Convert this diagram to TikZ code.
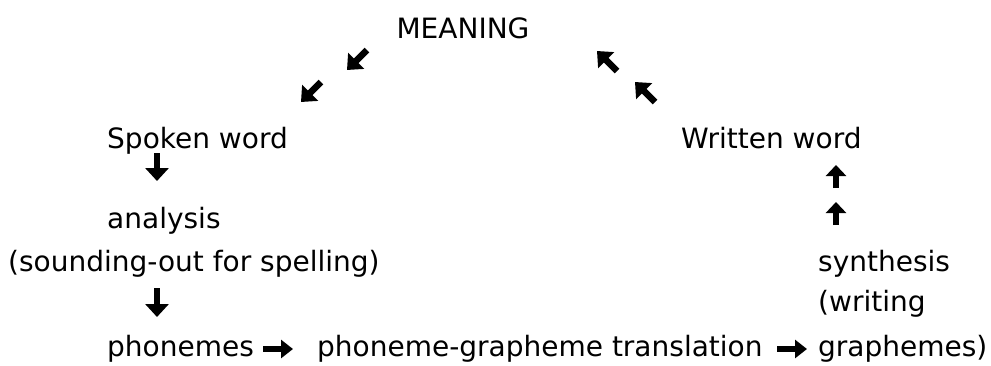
\documentclass[tikz,border=0pt]{standalone}
\usepackage{fontspec}
\setmainfont{DejaVu Sans}
\usetikzlibrary{arrows.meta}
\begin{document}
\begin{tikzpicture}[x=1pt,y=-1pt,
  lbl/.style={anchor=base west,inner sep=0pt,font=\fontsize{28}{32}\selectfont},
  fatarrow/.style={line width=6pt,-{Triangle[length=13pt,width=23pt]}},
  slantarrow/.style={line width=6.5pt,-{Triangle[length=13pt,width=22pt]}},
  uparrow/.style={line width=5.5pt,-{Triangle[length=11pt,width=20pt]}},
  sidearrow/.style={line width=5.5pt,-{Triangle[length=12pt,width=18pt]}}]
\useasboundingbox (0,0) rectangle (991,365);
% words
\node[lbl,anchor=base] (meaning) at (463,38) {MEANING};
\node[lbl] (spoken) at (107,148) {Spoken word};
\node[lbl] (written) at (681,148) {Written word};
\node[lbl] (analysis) at (107,228) {analysis};
\node[lbl] (sounding) at (8,271) {(sounding-out for spelling)};
\node[lbl] (synth) at (818,271) {synthesis};
\node[lbl] (writing) at (818,311) {(writing};
\node[lbl] (phonemes) at (107,356) {phonemes};
\node[lbl] (pgt) at (317,356) {phoneme-grapheme translation};
\node[lbl] (graphemes) at (818,356) {graphemes)};
% arrow end points
\coordinate (d1s) at (367,50);  \coordinate (d1e) at (347,70);
\coordinate (d2s) at (321,82);  \coordinate (d2e) at (301,102);
\coordinate (u1s) at (617,71);  \coordinate (u1e) at (597,51);
\coordinate (u2s) at (655,102); \coordinate (u2e) at (635,82);
\coordinate (v1s) at (157,153); \coordinate (v1e) at (157,181);
\coordinate (v2s) at (157,288); \coordinate (v2e) at (157,317);
\coordinate (w1s) at (836,188); \coordinate (w1e) at (836,165);
\coordinate (w2s) at (836,225); \coordinate (w2e) at (836,202);
\coordinate (r1s) at (263,349); \coordinate (r1e) at (293,349);
\coordinate (r2s) at (777,349); \coordinate (r2e) at (807,349);
% arrows
\foreach \a in {d1,d2,u1,u2}
  \draw[slantarrow] (\a s) -- (\a e);
\foreach \a in {v1,v2}
  \draw[fatarrow] (\a s) -- (\a e);
\foreach \a in {w1,w2}
  \draw[uparrow] (\a s) -- (\a e);
\foreach \a in {r1,r2}
  \draw[sidearrow] (\a s) -- (\a e);
\end{tikzpicture}
\end{document}
